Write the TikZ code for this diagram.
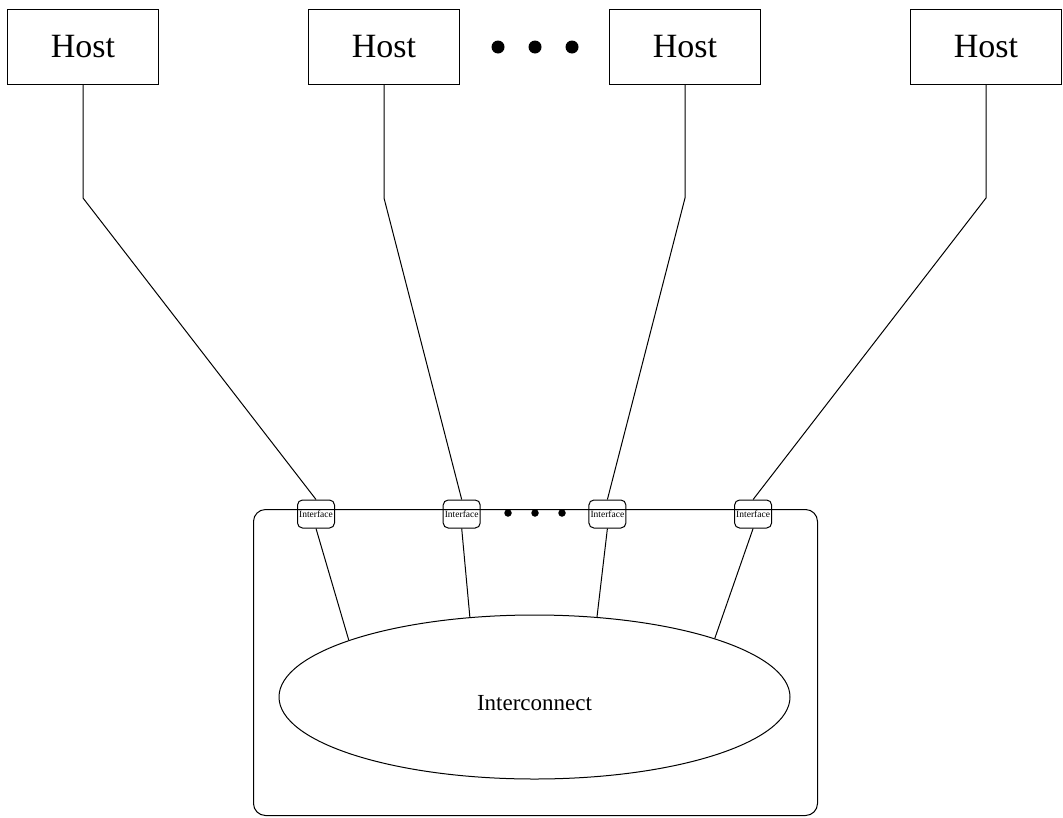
\documentclass[tikz,border=0pt]{standalone}
\usepackage{fontspec}
\setmainfont{Liberation Serif}
\usetikzlibrary{calc,math,positioning,shapes.geometric}

\begin{document}
\begin{tikzpicture}[
  x=1pt,y=-1pt,
  line width=1pt,
  hostbox/.style={rectangle,draw,minimum width=151pt,minimum height=75pt,anchor=north,font=\fontsize{34}{40}\selectfont},
  ifacebox/.style={rectangle,rounded corners=5pt,draw,minimum width=37pt,minimum height=28pt,inner sep=0pt,font=\fontsize{9.5}{10}\selectfont},
  gapdot/.style={circle,fill,draw=none,inner sep=0pt},
  wire/.style={draw,line width=1pt},
  ]

  \useasboundingbox (0,0) rectangle (1063,817);

  \node (board) [rectangle,rounded corners=12pt,draw,minimum width=564pt,minimum height=306pt,anchor=north west] at (253,509) {};

  \node (net) [ellipse,draw,minimum width=511pt,minimum height=164pt,inner sep=0pt,text height=27pt,text depth=0pt,font=\fontsize{23}{28}\selectfont] at (534.5,697) {Interconnect};

  \foreach \n in {0,...,3}
  {
    \tikzmath{
      real \hx, \ix;
      \hx = 83 + 301*\n;
      \ix = 316 + 145.7*\n;
    }
    \node (host_\n) [hostbox] at (\hx,9) {Host};
    \node (iface_\n) [ifacebox] at (\ix,514) {Interface};
  }

  \foreach \n/\a in {0/163,1/129,2/52,3/18}
  {
    \draw[wire] (host_\n.south) -- ($(host_\n.south)+(0,113)$) -- (iface_\n.north);
    \draw[wire] (iface_\n.south) -- (net.\a);
  }

  \foreach \d in {0,1,2}
  {
    \node (host_gap_\d) [gapdot,minimum size=13pt] at ($(498,47)+(37*\d,0)$) {};
    \node (iface_gap_\d) [gapdot,minimum size=7.5pt] at ($(508,513)+(27*\d,0)$) {};
  }

\end{tikzpicture}
\end{document}
